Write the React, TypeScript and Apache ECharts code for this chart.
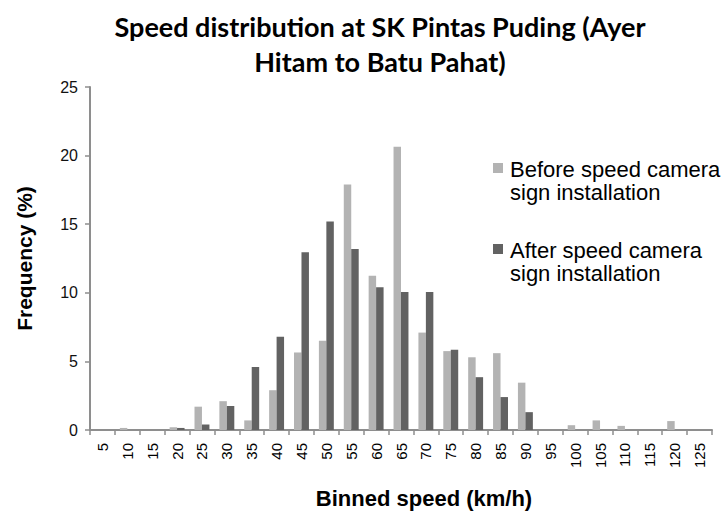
import React, { useEffect, useRef } from "react";
import * as echarts from "echarts";

const categories = ["5","10","15","20","25","30","35","40","45","50","55","60","65","70","75","80","85","90","95","100","105","110","115","120","125"];
const beforeValues = [0, 0.15, 0, 0.2, 1.7, 2.1, 0.7, 2.9, 5.65, 6.5, 17.9, 11.25, 20.65, 7.1, 5.75, 5.3, 5.6, 3.45, 0, 0.35, 0.7, 0.3, 0, 0.65, 0];
const afterValues = [0, 0, 0, 0.15, 0.4, 1.75, 4.6, 6.8, 12.95, 15.2, 13.2, 10.4, 10.05, 10.05, 5.85, 3.85, 2.4, 1.3, 0, 0, 0, 0, 0, 0, 0];
const yTicks = { min: 0, max: 25, interval: 5 };

const seriesNames = ["Before speed camera sign installation", "After speed camera sign installation"];
const lightColor = "#b3b3b3";
const darkColor = "#626262";
const axisColor = "#8e8e8e";
const font = "Liberation Sans, Arial, sans-serif";

export default function App() {
  const ref = useRef<HTMLDivElement>(null);
  useEffect(() => {
    if (!ref.current) return;
    const chart = echarts.init(ref.current, null, { renderer: "svg" });
    chart.setOption({
      animation: false,
      backgroundColor: "#ffffff",
      title: {
        text: "Speed distribution at SK Pintas Puding (Ayer\nHitam to Batu Pahat)",
        left: 380,
        top: 9,
        padding: 0,
        textAlign: "center",
        textStyle: { fontFamily: "Lato, sans-serif", fontWeight: "bold", fontSize: 27, lineHeight: 35, color: "#000" },
      },
      grid: { left: 90, right: 15, top: 87, bottom: 76, containLabel: false },
      xAxis: {
        type: "category",
        data: categories,
        name: "Binned speed (km/h)",
        nameLocation: "middle",
        nameGap: 57,
        nameTextStyle: { fontFamily: font, fontWeight: "bold", fontSize: 22, color: "#000", padding: [0, 0, 0, 46] },
        axisLine: { lineStyle: { color: axisColor, width: 2 } },
        axisTick: { show: true, length: 5, lineStyle: { color: axisColor, width: 1.5 } },
        axisLabel: { interval: 0, rotate: 90, fontFamily: font, fontSize: 15, color: "#000", margin: 13 },
        splitLine: { show: false },
      },
      yAxis: {
        type: "value",
        min: yTicks.min,
        max: yTicks.max,
        interval: yTicks.interval,
        name: "Frequency (%)",
        nameLocation: "middle",
        nameGap: 55,
        nameTextStyle: { fontFamily: font, fontWeight: "bold", fontSize: 21, color: "#000" },
        axisLine: { show: true, lineStyle: { color: axisColor, width: 2 } },
        axisTick: { show: true, length: 5, lineStyle: { color: axisColor, width: 1.5 } },
        axisLabel: { fontFamily: font, fontSize: 16, color: "#111", margin: 12 },
        splitLine: { show: false },
      },
      series: [
        { name: seriesNames[0], type: "bar", data: beforeValues, itemStyle: { color: lightColor }, barGap: "0%", barCategoryGap: "40%" },
        { name: seriesNames[1], type: "bar", data: afterValues, itemStyle: { color: darkColor }, barGap: "0%", barCategoryGap: "40%" },
      ],
      graphic: [
        { type: "rect", shape: { x: 493, y: 163, width: 10, height: 10 }, style: { fill: lightColor } },
        { type: "text", x: 510, y: 169, style: { text: "Before speed camera", font: `22px ${font}`, fill: "#000", verticalAlign: "middle" } },
        { type: "text", x: 510, y: 192, style: { text: "sign installation", font: `22px ${font}`, fill: "#000", verticalAlign: "middle" } },
        { type: "rect", shape: { x: 493, y: 244, width: 10, height: 10 }, style: { fill: darkColor } },
        { type: "text", x: 510, y: 250, style: { text: "After speed camera", font: `22px ${font}`, fill: "#000", verticalAlign: "middle" } },
        { type: "text", x: 510, y: 273, style: { text: "sign installation", font: `22px ${font}`, fill: "#000", verticalAlign: "middle" } },
      ],
    });
    return () => chart.dispose();
  }, []);
  return <div ref={ref} style={{ width: 727, height: 514, position: "absolute", left: 0, top: 0 }} />;
}
